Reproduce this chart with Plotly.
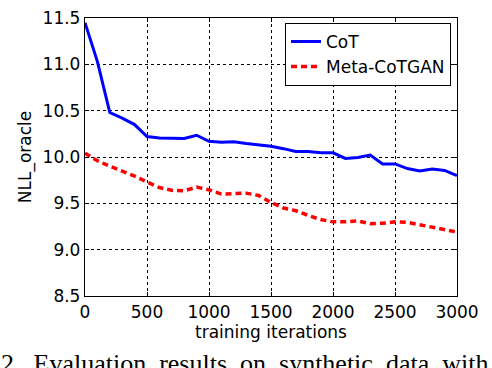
import plotly.graph_objects as go

iterations = list(range(0, 3001, 100))
cot = [11.45, 11.03, 10.48, 10.42, 10.35, 10.22, 10.205, 10.20, 10.20, 10.235,
       10.17, 10.16, 10.165, 10.145, 10.13, 10.115, 10.09, 10.06, 10.06, 10.045,
       10.045, 9.985, 9.995, 10.02, 9.925, 9.925, 9.875, 9.85, 9.87, 9.855, 9.80]
meta_cotgan = [10.04, 9.96, 9.90, 9.85, 9.795, 9.73, 9.67, 9.64, 9.635, 9.675,
               9.645, 9.60, 9.605, 9.61, 9.585, 9.51, 9.45, 9.42, 9.37, 9.325,
               9.30, 9.30, 9.31, 9.28, 9.285, 9.30, 9.295, 9.27, 9.24, 9.215, 9.19]
x_ticks = [0, 500, 1000, 1500, 2000, 2500, 3000]
y_ticks = [8.5, 9.0, 9.5, 10.0, 10.5, 11.0, 11.5]
caption_words = ["2.", "Evaluation", "results", "on", "synthetic", "data", "with"]

font = "DejaVu Sans"
fig = go.Figure()
fig.add_trace(go.Scatter(x=iterations, y=cot, mode="lines", name="CoT",
                         line=dict(color="#0000ff", width=3)))
fig.add_trace(go.Scatter(x=iterations, y=meta_cotgan, mode="lines", name="Meta-CoTGAN",
                         line=dict(color="#ff0000", width=3.5, dash="6px,4px")))

axis_common = dict(showline=True, linecolor="black", linewidth=1.3, mirror="ticks",
                   ticks="inside", ticklen=4, tickcolor="black",
                   showgrid=True, gridcolor="black", griddash="dot", gridwidth=0.8,
                   zeroline=False, ticklabeloverflow="allow",
                   tickfont=dict(family=font, size=17, color="black"))
fig.update_xaxes(range=[0, 3000], tickvals=x_ticks, ticktext=[str(v) for v in x_ticks],
                 title=dict(text="training iterations", standoff=3,
                            font=dict(family=font, size=17, color="black")),
                 **axis_common)
fig.update_yaxes(range=[8.5, 11.5], tickvals=y_ticks, ticktext=[f"{v:.1f}" for v in y_ticks],
                 title=dict(text="NLL_oracle", standoff=6,
                            font=dict(family=font, size=17, color="black")),
                 **axis_common)

fig.add_annotation(text=" \u00a0".join(caption_words),
                   xref="paper", yref="paper", x=(-1 - 85) / 372, y=1 - (349 - 8) / 288,
                   xanchor="left", yanchor="top", showarrow=False,
                   font=dict(family="Liberation Serif", size=26, color="black"))

fig.update_layout(
    width=492, height=368,
    margin=dict(l=85, r=35, t=8, b=72),
    paper_bgcolor="white", plot_bgcolor="white",
    showlegend=True,
    legend=dict(x=(451 - 85) / 372, y=1 - (13 - 8) / 288, xanchor="right", yanchor="top",
                bgcolor="white", bordercolor="black", borderwidth=1,
                font=dict(family=font, size=17, color="black"),
                tracegroupgap=0, itemwidth=30),
)
fig.write_html("out.html", config={"displayModeBar": False},
               post_script="document.body.style.margin='0';")
